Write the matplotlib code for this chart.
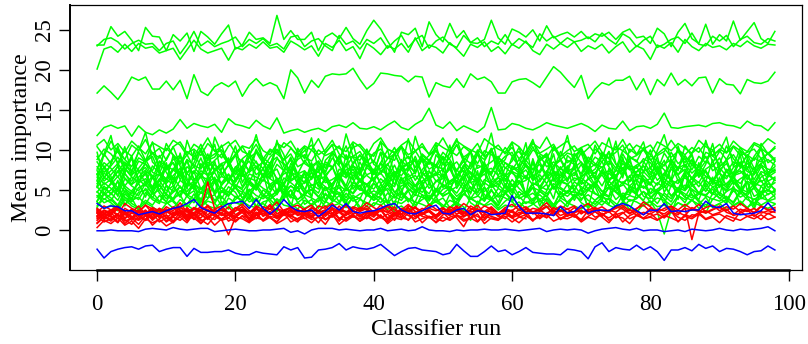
import numpy as np
import matplotlib
matplotlib.use("Agg")
from matplotlib import pyplot as plt

# importance history, one value per classifier run, stored in tenths

# confirmed attributes well above the rest
green_high = [
    [231, 231, 254, 242, 248, 237, 224, 253, 242, 241,
     224, 244, 236, 246, 223, 248, 241, 232, 245, 256,
     226, 231, 247, 238, 240, 233, 268, 238, 249, 238,
     238, 247, 224, 241, 246, 239, 253, 239, 232, 249,
     262, 251, 236, 222, 247, 244, 252, 229, 260, 244,
     235, 258, 240, 249, 234, 233, 238, 262, 240, 232,
     251, 247, 241, 250, 236, 255, 240, 244, 247, 241,
     248, 239, 245, 242, 247, 238, 247, 251, 240, 242,
     233, 252, 245, 229, 247, 258, 239, 233, 257, 232,
     244, 236, 261, 237, 248, 259, 239, 233, 248],
    [230, 238, 240, 235, 226, 233, 237, 232, 233, 224,
     233, 236, 220, 232, 248, 230, 236, 229, 233, 236,
     241, 229, 238, 233, 239, 230, 233, 226, 241, 243,
     229, 236, 239, 230, 224, 243, 232, 236, 226, 238,
     233, 240, 227, 236, 243, 228, 238, 243, 227, 236,
     241, 232, 228, 243, 234, 240, 229, 236, 232, 244,
     231, 239, 234, 228, 245, 236, 242, 233, 240, 235,
     237, 241, 235, 246, 238, 232, 245, 240, 229, 237,
     242, 228, 232, 238, 241, 233, 246, 232, 230, 242,
     236, 243, 229, 238, 242, 234, 232, 239, 236],
    [201, 226, 229, 222, 232, 223, 233, 227, 229, 221,
     224, 227, 213, 225, 237, 226, 221, 224, 227, 212,
     228, 225, 232, 227, 235, 227, 229, 222, 236, 231,
     225, 230, 217, 233, 228, 237, 224, 229, 214, 233,
     227, 219, 230, 226, 233, 222, 240, 224, 231, 228,
     221, 234, 226, 217, 232, 228, 235, 223, 229, 220,
     232, 227, 236, 224, 219, 232, 226, 233, 228, 235,
     223, 230, 226, 232, 221, 229, 235, 222, 230, 226,
     213, 231, 227, 234, 222, 238, 229, 224, 233, 228,
     230, 225, 233, 229, 236, 230, 227, 232, 231],
    [171, 180, 172, 163, 175, 191, 187, 191, 176, 176,
     186, 175, 187, 164, 194, 173, 168, 179, 184, 179,
     186, 167, 181, 189, 180, 184, 180, 164, 200, 190,
     171, 187, 178, 192, 195, 194, 195, 202, 188, 176,
     183, 196, 195, 193, 192, 185, 192, 191, 166, 184,
     180, 178, 189, 178, 195, 188, 191, 185, 171, 171,
     185, 188, 189, 184, 178, 191, 204, 197, 187, 178,
     193, 164, 176, 184, 181, 187, 187, 192, 175, 189,
     169, 188, 180, 196, 181, 188, 180, 190, 191, 171,
     189, 182, 181, 170, 188, 184, 183, 186, 197],
    [118, 128, 131, 127, 130, 117, 130, 122, 119, 125,
     121, 126, 138, 127, 133, 130, 128, 132, 122, 139,
     132, 130, 127, 137, 130, 126, 140, 121, 124, 126,
     122, 125, 127, 123, 129, 131, 128, 134, 127, 126,
     129, 125, 131, 136, 128, 125, 132, 137, 152, 131,
     127, 135, 124, 130, 126, 122, 129, 153, 125, 126,
     133, 131, 127, 125, 129, 134, 131, 129, 127, 130,
     133, 129, 123, 131, 127, 126, 136, 124, 129, 130,
     127, 132, 146, 128, 127, 129, 130, 131, 129, 133,
     134, 131, 130, 127, 136, 131, 130, 124, 134],
]

# confirmed attributes in the main band
green_band = [
    [106, 113, 100, 108, 97, 111, 103, 95, 109, 104,
     99, 112, 106, 93, 107, 101, 115, 98, 104, 110,
     96, 105, 102, 113, 99, 94, 108, 103, 111, 97,
     105, 100, 114, 96, 107, 102, 98, 110, 104, 93,
     108, 115, 101, 97, 106, 112, 99, 104, 95, 109,
     103, 98, 111, 105, 100, 96, 114, 107, 101, 97,
     110, 104, 93, 108, 102, 116, 99, 105, 111, 98,
     103, 107, 95, 109, 104, 100, 113, 97, 106, 101,
     94, 110, 105, 99, 108, 102, 96, 112, 104, 100,
     107, 97, 111, 103, 98, 109, 105, 114, 108],
    [104, 92, 111, 97, 88, 106, 99, 113, 95, 102,
     87, 104, 110, 96, 101, 93, 108, 99, 90, 105,
     112, 98, 94, 107, 89, 101, 96, 109, 103, 91,
     99, 106, 94, 100, 112, 95, 88, 103, 107, 97,
     92, 110, 101, 96, 105, 89, 98, 108, 94, 102,
     115, 99, 93, 104, 97, 108, 91, 100, 106, 95,
     103, 89, 98, 110, 96, 101, 107, 92, 99, 105,
     94, 102, 111, 97, 90, 104, 99, 108, 95, 101,
     106, 93, 98, 112, 100, 94, 103, 97, 109, 92,
     101, 96, 105, 99, 91, 107, 102, 95, 104],
    [62, 95, 118, 80, 104, 71, 99, 122, 85, 76,
     108, 93, 67, 112, 88, 101, 74, 116, 96, 83,
     105, 69, 91, 119, 86, 78, 110, 94, 64, 102,
     89, 115, 73, 97, 106, 81, 120, 92, 70, 99,
     84, 111, 66, 95, 103, 77, 117, 90, 82, 107,
     72, 98, 114, 87, 63, 100, 93, 121, 79, 88,
     109, 75, 96, 113, 85, 68, 104, 91, 118, 80,
     97, 71, 106, 89, 115, 83, 65, 101, 94, 110,
     76, 99, 119, 87, 74, 105, 92, 67, 112, 84,
     98, 116, 79, 103, 90, 70, 108, 95, 86],
    [88, 101, 95, 84, 99, 92, 105, 87, 96, 90,
     102, 94, 85, 98, 91, 107, 89, 95, 100, 86,
     93, 104, 90, 97, 83, 99, 95, 88, 102, 94,
     91, 86, 100, 93, 97, 105, 89, 92, 98, 84,
     96, 101, 90, 87, 104, 94, 99, 85, 93, 100,
     88, 95, 106, 91, 97, 83, 99, 94, 89, 103,
     92, 98, 86, 100, 95, 90, 104, 88, 96, 93,
     99, 85, 101, 94, 90, 97, 106, 89, 93, 100,
     87, 95, 102, 91, 98, 84, 96, 103, 90, 94,
     99, 88, 104, 93, 97, 101, 89, 95, 102],
    [76, 95, 83, 102, 88, 79, 97, 85, 92, 71,
     89, 104, 82, 94, 78, 99, 87, 91, 106, 80,
     93, 85, 74, 98, 90, 83, 101, 87, 95, 79,
     84, 100, 91, 77, 96, 88, 105, 82, 93, 86,
     72, 97, 89, 103, 84, 92, 78, 95, 87, 99,
     81, 90, 107, 85, 76, 94, 88, 101, 83, 92,
     97, 79, 89, 104, 86, 93, 75, 98, 84, 91,
     102, 87, 80, 95, 89, 77, 99, 92, 85, 103,
     88, 74, 96, 83, 100, 90, 86, 79, 97, 93,
     82, 105, 89, 78, 94, 87, 101, 84, 90],
    [97, 64, 83, 105, 71, 90, 58, 86, 110, 74,
     62, 93, 80, 51, 99, 77, 88, 107, 68, 82,
     95, 59, 76, 101, 85, 66, 112, 79, 70, 91,
     104, 73, 55, 87, 96, 63, 81, 108, 75, 92,
     60, 84, 100, 69, 78, 114, 72, 89, 57, 94,
     83, 106, 65, 79, 98, 53, 86, 102, 74, 67,
     91, 80, 109, 61, 88, 96, 70, 56, 93, 85,
     103, 76, 64, 97, 81, 111, 68, 90, 59, 84,
     100, 73, 87, 62, 105, 78, 95, 66, 82, 108,
     71, 89, 58, 99, 77, 92, 104, 69, 86],
    [92, 78, 86, 99, 81, 74, 90, 85, 97, 80,
     76, 88, 93, 71, 84, 102, 79, 87, 95, 82,
     73, 89, 96, 84, 77, 91, 100, 83, 75, 88,
     94, 80, 86, 72, 98, 85, 79, 92, 87, 101,
     82, 76, 89, 95, 78, 84, 70, 93, 86, 81,
     97, 88, 74, 90, 83, 99, 79, 85, 92, 77,
     86, 103, 81, 75, 89, 94, 80, 87, 72, 96,
     84, 78, 91, 85, 98, 82, 76, 90, 87, 73,
     93, 86, 80, 97, 83, 89, 75, 92, 84, 100,
     79, 87, 94, 81, 76, 90, 85, 97, 88],
    [85, 72, 80, 91, 77, 68, 86, 82, 74, 93,
     79, 84, 70, 88, 81, 76, 95, 73, 83, 87,
     69, 80, 92, 78, 85, 71, 89, 82, 75, 97,
     83, 77, 86, 72, 90, 80, 68, 84, 94, 79,
     87, 73, 81, 96, 76, 83, 88, 70, 85, 78,
     92, 81, 74, 86, 99, 77, 82, 69, 90, 84,
     75, 88, 80, 71, 93, 79, 85, 76, 87, 82,
     70, 91, 83, 78, 86, 73, 95, 80, 77, 89,
     84, 71, 82, 88, 76, 93, 81, 74, 86, 79,
     90, 72, 85, 80, 94, 77, 83, 88, 81],
    [70, 84, 77, 66, 81, 89, 73, 78, 64, 86,
     80, 75, 92, 71, 79, 68, 85, 76, 83, 62,
     78, 88, 72, 80, 67, 84, 91, 74, 79, 70,
     87, 76, 65, 82, 78, 93, 71, 80, 75, 88,
     69, 83, 77, 64, 86, 79, 73, 90, 76, 81,
     66, 78, 85, 72, 80, 95, 74, 77, 68, 84,
     79, 71, 87, 76, 82, 65, 80, 89, 73, 78,
     85, 70, 76, 91, 79, 67, 83, 75, 81, 86,
     72, 78, 64, 88, 77, 82, 71, 79, 92, 74,
     80, 86, 69, 77, 83, 75, 90, 72, 79],
    [79, 66, 74, 83, 70, 61, 77, 88, 72, 68,
     75, 84, 63, 79, 71, 90, 67, 74, 81, 60,
     73, 78, 86, 69, 76, 64, 82, 74, 91, 70,
     65, 77, 72, 85, 79, 62, 75, 80, 68, 87,
     73, 70, 83, 66, 78, 74, 92, 71, 63, 80,
     76, 85, 69, 74, 61, 81, 77, 72, 88, 67,
     75, 79, 64, 83, 71, 86, 74, 68, 78, 90,
     65, 76, 82, 70, 74, 63, 87, 77, 72, 80,
     69, 84, 75, 61, 79, 73, 88, 66, 76, 82,
     71, 64, 78, 85, 73, 69, 81, 76, 74],
    [55, 80, 67, 42, 74, 93, 61, 70, 48, 86,
     72, 58, 96, 64, 51, 83, 69, 45, 77, 90,
     60, 73, 99, 53, 68, 81, 46, 75, 88, 62,
     71, 40, 85, 66, 79, 57, 94, 63, 50, 82,
     70, 97, 59, 65, 44, 78, 87, 54, 72, 68,
     91, 47, 76, 61, 84, 69, 56, 101, 66, 52,
     80, 74, 43, 89, 63, 71, 95, 58, 77, 49,
     67, 86, 62, 75, 98, 55, 70, 81, 46, 73,
     64, 92, 57, 79, 68, 50, 84, 71, 60, 88,
     53, 76, 69, 94, 48, 72, 83, 61, 66],
    [66, 78, 60, 73, 85, 69, 75, 58, 80, 71,
     64, 77, 70, 88, 62, 74, 68, 82, 72, 59,
     79, 67, 73, 86, 65, 71, 76, 57, 83, 70,
     74, 63, 80, 69, 77, 91, 66, 72, 61, 78,
     70, 84, 65, 73, 68, 79, 62, 75, 87, 71,
     67, 76, 59, 81, 72, 64, 78, 70, 85, 63,
     73, 69, 80, 66, 74, 89, 61, 77, 71, 68,
     82, 65, 72, 79, 60, 75, 70, 86, 67, 73,
     78, 62, 71, 84, 69, 76, 64, 80, 72, 58,
     75, 83, 68, 71, 77, 63, 79, 70, 74],
    [74, 61, 69, 79, 65, 57, 72, 83, 66, 70,
     60, 75, 68, 86, 63, 71, 56, 77, 69, 81,
     64, 72, 59, 78, 67, 84, 62, 70, 75, 58,
     73, 66, 80, 69, 55, 76, 71, 63, 85, 68,
     61, 74, 70, 57, 79, 66, 72, 88, 64, 69,
     76, 59, 67, 81, 70, 62, 75, 68, 56, 78,
     71, 65, 83, 69, 60, 74, 67, 79, 63, 72,
     58, 77, 70, 86, 64, 68, 75, 61, 73, 80,
     66, 71, 57, 76, 69, 82, 63, 70, 74, 60,
     78, 67, 72, 84, 65, 59, 73, 69, 76],
    [58, 71, 64, 52, 77, 66, 60, 73, 68, 55,
     80, 63, 69, 57, 74, 65, 82, 59, 67, 62,
     75, 54, 70, 66, 61, 78, 64, 56, 72, 68,
     59, 84, 63, 67, 53, 71, 65, 76, 60, 69,
     73, 58, 66, 81, 62, 70, 55, 68, 74, 61,
     64, 79, 57, 67, 72, 63, 85, 59, 66, 70,
     54, 68, 75, 62, 69, 58, 73, 65, 80, 61,
     67, 71, 56, 74, 63, 66, 78, 60, 70, 64,
     57, 72, 68, 83, 61, 65, 59, 76, 67, 62,
     71, 55, 69, 74, 63, 78, 60, 66, 72],
    [70, 45, 59, 81, 52, 38, 66, 75, 49, 62,
     84, 55, 43, 71, 60, 34, 68, 86, 53, 47,
     63, 78, 41, 57, 90, 50, 65, 39, 73, 58,
     46, 80, 61, 54, 37, 69, 83, 51, 64, 44,
     76, 58, 33, 67, 88, 56, 48, 72, 62, 40,
     59, 85, 52, 66, 45, 74, 36, 61, 79, 55,
     42, 70, 64, 87, 50, 57, 39, 73, 60, 82,
     48, 65, 54, 35, 77, 63, 91, 51, 44, 68,
     58, 80, 47, 62, 38, 71, 56, 84, 53, 66,
     43, 75, 60, 49, 89, 57, 41, 69, 62],
    [69, 57, 63, 74, 55, 66, 60, 71, 52, 64,
     58, 68, 77, 61, 54, 67, 63, 72, 56, 65,
     60, 79, 62, 53, 70, 64, 58, 75, 61, 67,
     50, 66, 73, 59, 63, 69, 55, 81, 62, 57,
     65, 71, 60, 54, 76, 63, 68, 58, 64, 72,
     53, 61, 67, 78, 59, 63, 70, 56, 65, 61,
     74, 58, 62, 69, 51, 66, 72, 60, 64, 77,
     57, 63, 68, 55, 71, 62, 59, 66, 80, 61,
     64, 56, 70, 62, 58, 73, 65, 54, 67, 63,
     60, 75, 57, 64, 69, 52, 66, 71, 62],
    [53, 66, 60, 48, 71, 57, 63, 55, 68, 50,
     62, 58, 74, 54, 61, 67, 49, 64, 59, 70,
     56, 52, 65, 61, 77, 55, 60, 47, 63, 68,
     58, 72, 54, 62, 57, 66, 51, 69, 60, 56,
     64, 48, 61, 73, 58, 63, 55, 67, 52, 60,
     70, 57, 62, 50, 66, 59, 75, 54, 61, 64,
     49, 58, 68, 56, 63, 71, 53, 60, 57, 65,
     62, 51, 59, 69, 55, 64, 58, 46, 67, 61,
     56, 72, 60, 54, 63, 50, 66, 59, 74, 57,
     61, 53, 65, 58, 70, 55, 62, 48, 64],
    [61, 50, 57, 67, 52, 45, 59, 64, 54, 70,
     56, 48, 62, 55, 73, 51, 58, 66, 47, 60,
     53, 69, 57, 50, 63, 56, 44, 65, 59, 52,
     71, 55, 60, 49, 58, 67, 53, 46, 62, 57,
     51, 64, 56, 72, 50, 59, 54, 61, 68, 48,
     57, 52, 66, 55, 60, 47, 63, 58, 53, 69,
     56, 61, 45, 59, 54, 67, 51, 62, 57, 50,
     65, 58, 53, 74, 56, 49, 60, 55, 63, 52,
     59, 46, 64, 57, 51, 68, 55, 60, 48, 62,
     54, 58, 66, 50, 61, 56, 71, 53, 59],
    [36, 55, 44, 62, 30, 49, 58, 41, 67, 46,
     35, 52, 73, 43, 57, 29, 48, 64, 39, 54,
     47, 32, 60, 50, 71, 38, 45, 56, 27, 63,
     51, 42, 68, 37, 53, 46, 33, 59, 75, 44,
     40, 57, 49, 31, 66, 52, 43, 61, 36, 48,
     70, 45, 28, 55, 47, 62, 39, 51, 34, 58,
     46, 74, 41, 53, 30, 49, 65, 44, 57, 37,
     52, 28, 60, 48, 42, 69, 35, 54, 46, 63,
     40, 50, 32, 56, 47, 72, 43, 38, 59, 45,
     66, 34, 51, 48, 61, 29, 55, 44, 50],
    [47, 59, 52, 43, 64, 55, 49, 61, 50, 57,
     45, 66, 53, 48, 58, 51, 62, 44, 56, 69,
     52, 47, 60, 54, 41, 57, 63, 50, 55, 48,
     61, 53, 46, 67, 51, 56, 49, 59, 54, 42,
     58, 52, 65, 47, 55, 60, 50, 53, 45, 62,
     56, 49, 54, 71, 51, 46, 59, 53, 57, 48,
     63, 52, 44, 58, 55, 50, 66, 53, 47, 60,
     54, 49, 57, 43, 61, 52, 56, 68, 50, 55,
     46, 59, 53, 64, 48, 56, 51, 45, 62, 54,
     57, 50, 67, 52, 47, 58, 55, 61, 49],
    [54, 44, 50, 60, 47, 39, 53, 57, 45, 62,
     49, 55, 41, 58, 51, 46, 64, 48, 53, 43,
     56, 50, 38, 59, 52, 47, 61, 44, 55, 49,
     42, 57, 51, 65, 46, 53, 40, 56, 50, 48,
     59, 45, 52, 43, 63, 49, 55, 47, 58, 41,
     51, 54, 46, 60, 39, 52, 48, 57, 44, 55,
     50, 62, 45, 53, 49, 41, 58, 51, 46, 56,
     43, 52, 60, 48, 54, 47, 39, 55, 50, 63,
     45, 51, 57, 42, 53, 49, 59, 46, 52, 44,
     56, 48, 61, 50, 43, 54, 47, 58, 51],
    [41, 52, 46, 37, 55, 48, 43, 58, 45, 50,
     39, 47, 54, 42, 60, 46, 51, 36, 49, 44,
     53, 40, 48, 57, 45, 38, 51, 47, 43, 62,
     46, 50, 41, 54, 48, 35, 52, 45, 56, 43,
     49, 44, 59, 47, 40, 51, 46, 55, 38, 48,
     45, 53, 42, 50, 47, 61, 44, 39, 52, 46,
     57, 43, 48, 36, 51, 45, 54, 41, 49, 47,
     44, 58, 46, 40, 53, 48, 42, 50, 45, 37,
     52, 47, 55, 43, 49, 41, 56, 46, 44, 51,
     39, 48, 53, 45, 60, 42, 47, 50, 46],
    [48, 38, 45, 53, 41, 35, 47, 50, 40, 56,
     43, 37, 49, 44, 39, 52, 46, 33, 48, 42,
     55, 40, 45, 36, 50, 43, 47, 58, 41, 38,
     46, 51, 42, 34, 49, 44, 53, 39, 45, 48,
     37, 43, 57, 41, 46, 35, 50, 44, 40, 52,
     42, 47, 38, 45, 54, 43, 36, 49, 41, 46,
     51, 39, 44, 33, 48, 42, 55, 40, 47, 43,
     37, 50, 45, 41, 53, 38, 46, 44, 59, 42,
     39, 48, 43, 35, 51, 45, 40, 47, 42, 54,
     44, 38, 49, 41, 46, 52, 39, 45, 48],
    [28, 45, 36, 52, 31, 40, 24, 47, 38, 33,
     56, 35, 27, 43, 49, 30, 39, 61, 34, 26,
     42, 37, 50, 29, 44, 35, 23, 48, 40, 54,
     32, 38, 27, 46, 36, 58, 31, 41, 25, 44,
     37, 51, 33, 22, 47, 39, 35, 55, 30, 42,
     26, 45, 38, 49, 34, 28, 53, 40, 31, 46,
     36, 24, 43, 57, 35, 39, 29, 48, 33, 41,
     52, 27, 37, 44, 32, 60, 38, 25, 45, 36,
     30, 47, 39, 21, 43, 34, 50, 37, 28, 46,
     40, 33, 55, 31, 42, 26, 48, 36, 39],
    [36, 46, 40, 31, 49, 43, 38, 52, 41, 35,
     45, 39, 55, 42, 34, 47, 40, 44, 30, 48,
     41, 37, 51, 43, 39, 46, 33, 42, 50, 38,
     44, 40, 35, 53, 41, 47, 37, 43, 39, 56,
     42, 34, 46, 40, 49, 36, 44, 41, 38, 51,
     43, 47, 32, 45, 39, 42, 54, 37, 44, 40,
     35, 48, 41, 46, 38, 43, 31, 47, 42, 50,
     39, 44, 37, 45, 41, 55, 36, 43, 40, 48,
     42, 33, 46, 39, 52, 41, 37, 45, 43, 38,
     47, 40, 35, 49, 42, 38, 44, 51, 41],
    [43, 34, 38, 29, 45, 37, 41, 32, 47, 36,
     33, 40, 44, 28, 39, 35, 48, 37, 42, 31,
     38, 46, 35, 40, 27, 43, 36, 39, 50, 34,
     41, 30, 37, 44, 38, 33, 46, 36, 40, 29,
     45, 39, 34, 42, 37, 49, 31, 38, 43, 35,
     40, 28, 36, 45, 39, 34, 41, 37, 30, 47,
     38, 42, 33, 39, 44, 36, 27, 40, 35, 43,
     46, 37, 32, 41, 38, 29, 44, 36, 39, 48,
     34, 40, 37, 31, 43, 38, 45, 35, 21, 39,
     36, 42, 33, 47, 38, 34, 40, 37, 44],
    [30, 39, 34, 26, 41, 33, 28, 37, 31, 43,
     35, 27, 38, 32, 45, 29, 36, 33, 24, 40,
     34, 31, 42, 28, 35, 38, 30, 47, 33, 26,
     37, 32, 40, 29, 35, 43, 31, 27, 38, 34,
     30, 41, 25, 36, 33, 39, 28, 44, 32, 35,
     29, 37, 33, 24, 40, 34, 31, 38, 27, 36,
     42, 30, 35, 33, 26, 39, 32, 37, 29, 45,
     34, 28, 36, 31, 40, 33, 27, 38, 35, 30,
     36, 22, -5, 25, 34, 29, 37, 32, 41, 28,
     33, 38, 30, 35, 27, 39, 31, 36, 33],
    [35, 27, 31, 24, 38, 30, 26, 34, 29, 22,
     33, 37, 28, 31, 25, 40, 30, 27, 35, 32,
     23, 36, 30, 28, 33, 26, 39, 31, 29, 34,
     27, 32, 21, 36, 30, 33, 28, 41, 29, 25,
     34, 31, 37, 26, 30, 23, 35, 32, 28, 38,
     31, 27, 34, 29, 12, 36, 30, 33, 25, 31,
     29, 35, 27, 32, 38, 28, 31, 24, 34, 30,
     26, 33, 29, 37, 31, 27, 35, 30, 22, 32,
     36, 29, 31, 26, 34, 30, 38, 27, 32, 29,
     33, 25, 31, 36, 28, 34, 30, 27, 32],
]

# rejected attributes (history stops once rejected)
red_rejected = [
    [18, 25, 21, 14, 27, 22, 30, 19, 24, 16, 23, 28, 20, 26, 17, 24, 29, 21, 25, 19,
     27, 22, 15, 26, 23, 30, 20, 24, 18, 25, 21, 28, 24, 17, 26, 22, 31, 20, 23, 27,
     19, 25, 22, 29, 16, 24, 21, 27, 23, 18, 26, 22, 28, 20, 25, 31, 21, 24, 17, 26,
     23, 19, 27, 22, 25, 30, 18, 24, 21, 28, 20, 26, 23, 17, 25, 22, 29, 21, 24, 19,
     27, 23, 20, 26, 22, 18, 28, 24, 21, 25, 30, 22, 19, 26, 23, 27, 21, 24, 22],
    [12, 20, 16, 9, 22, 17, 13, 24, 15, 19, 11, 18, 25, 14, 20, 8, 17, 21, 13, -6,
     16, 22, 12, 19, 24, 15, 10, 20, 17, 23, 14, 18, 9, 21, 16, 25, 13, 19, 11, 17,
     22, 15, 20, 12, 24, 18, 14, 21, 16, 10, 19, 23, 15, 4, 20, 17, 12, 22, 18, 14,
     25, 16, 19, 11, 21, 15, 24, 13, 18, 20, 12, 17, 23, 16, 9, 19, 22, 14, 18, 15,
     21, 13, 17, 24, 10, 19, 16, 22, 14, 18, 20, 15, 11, 23, 17, 19, 13, 21, 16],
    [22, 30, 25, 19, 33, 27, 23, 31, 26, 20, 29, 24, 34, 22, 28, 25, 60, 26, 30, 21,
     27, 32, 24, 19, 29, 26, 35, 23, 28, 31, 25, 20, 30, 27, 33, 24, 22, 29, 26, 34,
     28, 23, 31, 25, 19, 30, 27, 24, 32, 26, 21, 29, 25, 33, 27, 23, 30, 26, 20, 28,
     32, 25, 29, 22, 27, 34, 24, 30, 26, 21, 28, 33, 25, 29, 23, 27, 31, 24, 26, 35,
     29, 22, 27, 30, 25, 32, 26, 23, 28, 31, 24, 29, 26, 33, 27, 22, 30, 25, 28],
    [9, 17, 13, 20, 11, 15, 7, 18, 14, 21, 10, 16, 12, 19, 15, 8, 17, 13, 22, 11,
     16, 14, 9, 19, 12, 17, 15, 21, 10, 14, 18, 13, 16, 7, 20, 15, 11, 17, 14, 19,
     12, 16, 10, 18, 15, 13, 21, 9, 17, 14, 11, 16, 19, 13, 15, 10, 18, 14, 12, 20,
     15, 9, 17, 13, 16, 19, 11, 15, 14, 18, 10, 16, 13, 21, 12, 17, 15, 8, 19, 14,
     16, 12, 18, 15, 11, 17, 14, 20, 13, 16, 9, 18, 15, 12, 17, 14, 19, 13, 16],
    [24, 17, 21, 27, 15, 22, 19, 25, 13, 21, 26, 18, 23, 16, 28, 20, 14, 24, 19, 22,
     17, 25, 21, 29, 18, 23, 15, 20, 26, 19, 22, 16, 24, 20, 27, 14, 21, 25, 18, 23,
     19, 26, 15, 22, 20, 28, 17, 21, 24, 16, 23, 19, 25, 18, 21, 27, 15, 22, 20, 24,
     17, 26, 19, 23, 14, 21, 25, 18, 22, 16, 24, 20, 27, 19, 23, 15, 21, 26, 18, 22,
     20, 25, 17, 23, 19, 28, -12, 21, 24, 19, 22, 26, 18, 21, 25, 17, 23, 20, 24],
    [27, 21, 25, 30, 20, 26, 23, 18, 28, 24, 21, 29, 25, 19, 27, 23, 31, 22, 26, 20,
     28, 24, 21, 30, 25, 19, 27, 23, 29, 22, 26, 31, 20, 25, 28, 23, 18, 27, 24, 30,
     22, 26, 29, 21, 25, 32, 23, 19, 27, 24, 28, 22, 26, 20, 30, 25, 23, 29, 21, 26,
     24, 31, 22, 27, 25, 19, 28, 23, 26, 30, 21, 25, 28, 24, 22, 29, 26, 20, 27, 31,
     23, 26, 24, 29, 21, 27, 25, 32, 22, 26, 28, 24, 30, 23, 27, 21, 29, 25, 26],
    [21, 13, 18, 10, 23, 16, 20, 12, 19, 25, 14, 17, 22, 11, 19, 15, 24, 18, 13, 20,
     16, 26, 14, 19, 12, 21, 17, 23, 15, 10, 20, 18, 24, 13, 17, 22, 15, 19, 11, 21,
     16, 25, 14, 18, 20, 12, 23, 17, 15, 19, 22, 13, 18, 16, 24, 11, 20, 17, 14, 21,
     15, 19, 23, 12, 18, 16, 22, 14, 20, 17, 13, 24, 16, 19, 15, 21, 10, 18, 22, 14,
     17, 20, 15, 23, 16, 12, 19, 18],
    [16, 24, 19, 27, 21, 15, 25, 20, 23, 17, 26, 22, 18, 28, 20, 24, 16, 23, 21, 29,
     19, 25, 22, 14, 24, 20, 27, 18, 23, 21, 26, 17, 22, 25, 19, 30, 21, 24, 16, 23,
     20, 27, 22, 18, 25, 21, 28, 19, 24, 17, 22, 26, 20, 23, 15, 25, 21, 27, 19, 24,
     22, 18, 26, 20, 23, 29, 21, 25, 17, 22, 24, 20, 27, 19, 23],
    [23, 16, 20, 26, 14, 21, 18, 24, 12, 20, 25, 17, 22, 15, 27, 19, 13, 23, 18, 21,
     16, 24, 20, 28, 17, 22, 14, 19, 25, 18, 21, 15, 23, 19, 26, 13, 20, 24, 17, 22,
     18, 25, 14, 21, 19, 27, 16, 20, 23, 15, 22, 18, 24, 17, 20, 26, 14, 21, 19, 23,
     16, 22, 20],
    [17, 10, 14, 20, 8, 15, 12, 18, 6, 14, 19, 11, 16, 9, 21, 13, 7, 17, 12, 15,
     10, 18, 14, 22, 11, 16, 8, 13, 19, 12, 15, 9, 17, 13, 20, 7, 14, 18, 11, 16,
     12, 19, 8, 15, 13, 21, 10, 14, 17, 9, 16, 12, 18, 11, 14, 20, 8, 15, 13, 17,
     10, 16, 14],
    [26, 20, 24, 29, 19, 25, 22, 31, 21, 27, 23, 18, 28, 24, 20, 30, 25, 22, 27, 19,
     24, 29, 21, 26, 23, 32, 20, 25, 28, 22, 18, 27, 24, 30, 21, 26, 23, 19, 28, 25,
     22, 31, 24, 20, 27, 23, 29, 21, 25, 18, 26, 24, 30, 22, 25],
    [14, 21, 17, 10, 23, 16, 19, 12, 25, 15, 18, 11, 22, 17, 14, 24, 16, 20, 13, 19,
     15, 26, 12, 18, 21, 16, 10, 22, 17, 14, 20, 15, 24, 13, 18, 11, 21, 16, 19, 14,
     23, 17, 12, 20, 15],
    [25, 17, 22, 28, 19, 24, 14, 21, 27, 18, 23, 20, 30, 16, 22, 25, 19, 26, 21, 15,
     24, 29, 18, 22, 20, 27, 17, 23, 21, 26, 19, 24, 16, 22, 20],
    [8, 16, 11, 19, 13, 7, 17, 12, 21, 10, 15, 9, 18, 13, 20, 11, 16, 6, 14, 19,
     12, 17, 10, 15, 13],
    [21, 14, 25, 17, 20, 12, 23, 19, 16, 27, 15, 22, 18, 24, 13, 20, 26, 17],
    [3, 12, 8, 15, 6, 11, 2, 14, 9, 13, 5, 10],
]

# shadow attributes
shadow_max = [33, 27, 30, 29, 24, 24, 19, 21, 23, 20, 24, 27, 29, 33, 38, 28, 24, 21, 28, 33,
              34, 36, 27, 38, 27, 20, 27, 38, 29, 24, 23, 25, 17, 23, 31, 25, 33, 23, 21, 23,
              24, 27, 31, 33, 25, 21, 20, 24, 28, 31, 21, 20, 25, 27, 19, 24, 23, 19, 20, 21,
              43, 29, 21, 21, 21, 20, 18, 29, 21, 23, 31, 21, 24, 25, 24, 30, 33, 30, 24, 19,
              25, 24, 33, 23, 24, 23, 25, 25, 36, 29, 28, 33, 21, 19, 20, 21, 24, 34, 24]
shadow_mean = [-1, -1, 0, -1, -1, -1, -2, 1, 2, 1, 0, 3, 1, 0, 1, 2, 2, -2, -1, 0,
               1, 0, -1, -1, 0, 0, 1, 2, -3, -1, -5, 0, 2, 2, 2, 0, 1, 0, -1, 0,
               0, 2, -1, 0, 1, -1, 0, 4, 0, -1, -1, -2, 0, -1, 0, 0, 1, 0, 0, 1,
               0, -1, 0, 1, 2, -2, 0, 1, 0, 1, 0, -4, -1, 1, 2, 3, 1, 0, 2, -1,
               0, 0, -2, -1, 0, -2, 1, 0, -1, 0, 2, 0, -1, 1, 0, 1, 2, 4, -1]
shadow_min = [-24, -35, -27, -24, -22, -21, -24, -20, -19, -27, -24, -22, -22, -33, -23, -28, -28, -27, -27, -25,
              -29, -31, -31, -27, -29, -30, -31, -21, -25, -22, -35, -34, -25, -24, -22, -17, -25, -21, -23, -24,
              -22, -18, -25, -32, -27, -23, -22, -25, -26, -27, -31, -29, -18, -26, -33, -33, -27, -20, -27, -25,
              -31, -27, -22, -28, -29, -30, -30, -31, -24, -25, -27, -36, -21, -16, -27, -22, -24, -25, -19, -25,
              -21, -27, -38, -25, -25, -22, -26, -18, -23, -20, -27, -23, -24, -27, -31, -27, -26, -20, -25]

plt.rcParams['font.family'] = ['Liberation Serif', 'DejaVu Serif']

fig = plt.figure(figsize=(8.08, 3.44), dpi=100)
ax = fig.add_axes([70 / 808, 74 / 344, 732 / 808, 265 / 344])

lw = 1.1
for vals in green_high + green_band:
    ax.plot(np.arange(len(vals)), np.array(vals) / 10, color='#00ff00', lw=lw)
for vals in red_rejected:
    ax.plot(np.arange(len(vals)), np.array(vals) / 10, color='#ff0000', lw=lw)
for vals in [shadow_max, shadow_mean, shadow_min]:
    ax.plot(np.arange(len(vals)), np.array(vals) / 10, color='#0000ff', lw=lw)

ax.set_xlim(-3.92, 101.92)
ax.set_ylim(-5.0, 28.1)
ax.set_xticks([0, 20, 40, 60, 80, 100])
ax.set_yticks([0, 5, 10, 15, 20, 25])
ax.tick_params(direction='out', length=8, width=1, labelsize=16.5, color='black')
ax.tick_params(axis='x', pad=9)
ax.tick_params(axis='y', pad=3)
plt.setp(ax.get_yticklabels(), rotation=90, va='center')
for s in ax.spines.values():
    s.set_linewidth(0.9)
ax.spines['left'].set_linewidth(1.4)
# R-style axis line spanning the tick range
ax.plot([0, 100], [0, 0], color='black', lw=1.8, transform=ax.get_xaxis_transform(), clip_on=False)

ax.set_xlabel('Classifier run', fontsize=17.3, labelpad=3)
ax.set_ylabel('Mean importance', fontsize=17.3, labelpad=1)

fig.savefig('out.png', dpi=100)
